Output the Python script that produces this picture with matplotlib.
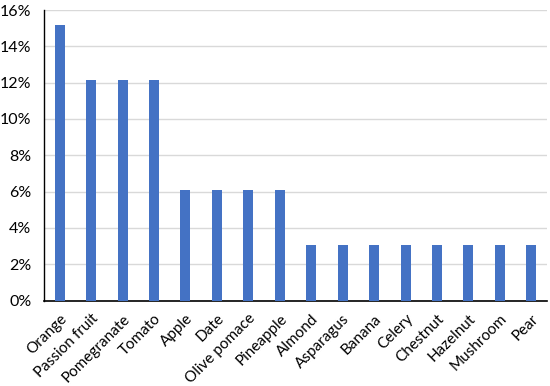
import matplotlib
matplotlib.use("Agg")
import matplotlib.pyplot as plt
from matplotlib.ticker import PercentFormatter

categories = ["Orange", "Passion fruit", "Pomegranate", "Tomato", "Apple", "Date",
              "Olive pomace", "Pineapple", "Almond", "Asparagus", "Banana", "Celery",
              "Chestnut", "Hazelnut", "Mushroom", "Pear"]
values = [15.15, 12.12, 12.12, 12.12, 6.06, 6.06, 6.06, 6.06,
          3.03, 3.03, 3.03, 3.03, 3.03, 3.03, 3.03, 3.03]
yticks = [0, 2, 4, 6, 8, 10, 12, 14, 16]

plt.rcParams['font.family'] = ['Lato', 'DejaVu Sans']
fig = plt.figure(figsize=(5.5, 3.86), dpi=100)
ax = fig.add_axes([44/550, 1 - 300.5/386, 503/550, 290.5/386])
x = range(len(categories))
ax.bar(x, values, width=0.32, color="#4472C4", zorder=3)
ax.set_xlim(-0.5, len(categories) - 0.5)
ax.set_ylim(0, 16)
ax.set_yticks(yticks)
ax.yaxis.set_major_formatter(PercentFormatter(decimals=0))
ax.grid(axis='y', color='#D9D9D9', linewidth=1, zorder=0)
ax.set_xticks(list(x))
ax.set_xticklabels(categories, rotation=45, ha='right', rotation_mode='anchor', fontsize=11)
ax.tick_params(axis='y', labelsize=11.5, length=0, pad=9)
ax.tick_params(axis='x', length=0, pad=8)
for s in ['top', 'right']:
    ax.spines[s].set_visible(False)
ax.spines['left'].set_color('black')
ax.spines['bottom'].set_color('black')
ax.spines['left'].set_linewidth(1)
ax.spines['bottom'].set_linewidth(1.2)
fig.savefig("out.png", dpi=100)
